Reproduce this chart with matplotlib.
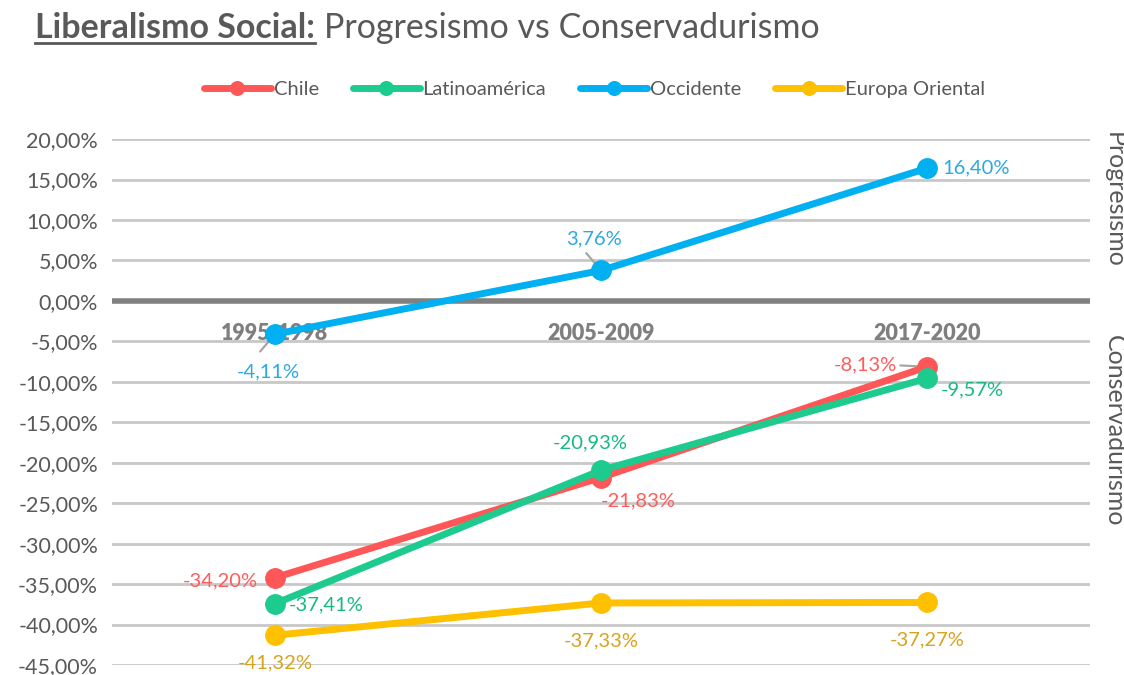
import matplotlib
matplotlib.use('Agg')
import matplotlib.pyplot as plt
from matplotlib.ticker import FuncFormatter, MultipleLocator
from matplotlib.lines import Line2D

plt.rcParams['font.family'] = ['Lato', 'DejaVu Sans']

# Data (percent)
periodos = ['1995-1998', '2005-2009', '2017-2020']
chile = [-34.20, -21.83, -8.13]
latam = [-37.41, -20.93, -9.57]
occidente = [-4.11, 3.76, 16.40]
europa_or = [-41.32, -37.33, -37.27]

series = [
    ('Chile', chile, '#FF5757', '#FF5B5B'),
    ('Latinoamérica', latam, '#1DCB8E', '#17B983'),
    ('Occidente', occidente, '#00B0F0', '#2BA9E1'),
    ('Europa Oriental', europa_or, '#FFC000', '#D8A31C'),
]

# label offsets in points (dx, dy), alignment, leader line
lbl_pos = {
    'Chile': [(-12, -2, 'right', 'center', False), (0, -17, 'left', 'center', False), (-22, 1, 'right', 'center', True)],
    'Latinoamérica': [(10, -1, 'left', 'center', False), (-8, 20, 'center', 'center', False), (10, -8, 'left', 'center', False)],
    'Occidente': [(-5, -27, 'center', 'center', True), (-5, 23, 'center', 'center', True), (11, 0, 'left', 'center', False)],
    'Europa Oriental': [(0, -20, 'center', 'center', False), (0, -27, 'center', 'center', False), (0, -27, 'center', 'center', False)],
}

fig = plt.figure(figsize=(11.24, 6.75), dpi=100)
ax = fig.add_axes([0.0996, 0.0148, 0.8704, 0.7792])

x = list(range(len(periodos)))
for name, vals, col, lcol in series:
    ax.plot(x, vals, color=col, lw=5, marker='o', ms=14, label=name,
            solid_capstyle='round', zorder=3)
    for i, v in enumerate(vals):
        dx, dy, ha, va, leader = lbl_pos[name][i]
        txt = ('%.2f' % v).replace('.', ',') + '%'
        ax.annotate(txt, (i, v), xytext=(dx, dy), textcoords='offset points',
                    ha=ha, va=va, color=lcol, fontsize=14.5, zorder=5)
        if leader:
            if name == 'Chile':
                ax.annotate('', (i - 0.01, v), xytext=(-19, 1), textcoords='offset points',
                            arrowprops=dict(arrowstyle='-', color='#A6A6A6', lw=1.6), zorder=2)
            else:
                sy = -1 if dy < 0 else 1
                ax.annotate('', (i, v), xytext=(-12, 14 * sy), textcoords='offset points',
                            arrowprops=dict(arrowstyle='-', color='#A6A6A6', lw=1.6), zorder=2)

# category labels near the zero axis
for i, p in enumerate(periodos):
    ax.text(i, -4.0, p, ha='center', va='center', fontsize=15.5, fontweight='heavy',
            color='#7F7F7F', zorder=2)

ax.set_xlim(-0.5, 2.5)
ax.set_ylim(-45, 20)
ax.yaxis.set_major_locator(MultipleLocator(5))
ax.yaxis.set_major_formatter(FuncFormatter(lambda v, p: ('%.2f' % v).replace('.', ',') + '%'))
ax.set_xticks([])
ax.tick_params(axis='y', length=0, labelsize=15.5, labelcolor='#595959', pad=10)
for s in ax.spines.values():
    s.set_visible(False)
ax.grid(axis='y', color='#C8C8C8', lw=2, zorder=0)
ax.set_axisbelow(True)
ax.axhline(0, color='#808080', lw=4, zorder=1)

# right side labels
ax.text(1.025, 12.5, 'Progresismo', transform=ax.get_yaxis_transform(), rotation=270,
        ha='center', va='center', fontsize=18, color='#595959')
ax.text(1.025, -16.0, 'Conservadurismo', transform=ax.get_yaxis_transform(), rotation=270,
        ha='center', va='center', fontsize=18, color='#595959')

# legend
ax.legend(loc='center', bbox_to_anchor=(0.529, 0.867), bbox_transform=fig.transFigure,
          ncol=4, frameon=False, fontsize=14.5, handlelength=3.3, handletextpad=0.15,
          columnspacing=1.7, labelcolor='#595959', markerscale=0.7)

# title: bold underlined part + regular part
renderer = fig.canvas.get_renderer()
t1 = fig.text(35 / 1124, 1 - 28 / 675, 'Liberalismo Social:', fontsize=24.5, fontweight='bold',
              color='#595959', va='center', ha='left')
bb = t1.get_window_extent(renderer=renderer).transformed(fig.transFigure.inverted())
fig.add_artist(Line2D([bb.x0, bb.x1], [bb.y0 + 0.001, bb.y0 + 0.001], color='#595959', lw=2,
                      transform=fig.transFigure))
fig.text(bb.x1 + 0.008, 1 - 28 / 675, 'Progresismo vs Conservadurismo', fontsize=24.5,
         color='#595959', va='center', ha='left')

fig.savefig('out.png', dpi=100)
